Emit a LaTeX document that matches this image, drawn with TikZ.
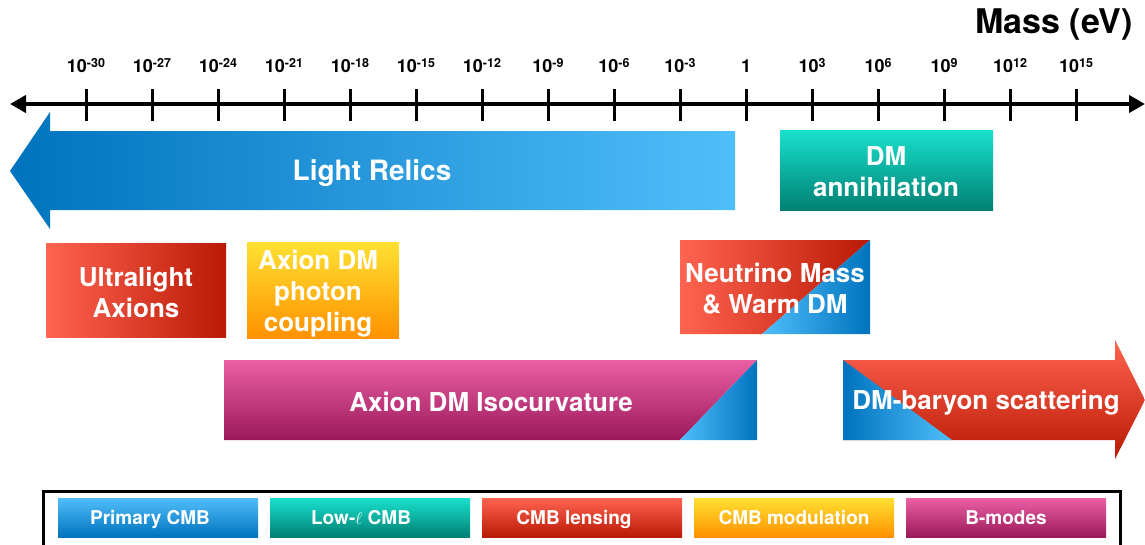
\documentclass[tikz,border=0pt]{standalone}
\usepackage{fontspec}
\setmainfont{TeX Gyre Heros}
\usetikzlibrary{arrows.meta}

\definecolor{bluelight}{RGB}{80,190,250}
\definecolor{bluedark}{RGB}{0,115,190}
\definecolor{teallight}{RGB}{25,225,205}
\definecolor{tealdark}{RGB}{0,128,115}
\definecolor{redlight}{RGB}{255,100,80}
\definecolor{reddark}{RGB}{185,25,5}
\definecolor{yellowlight}{RGB}{255,225,50}
\definecolor{orangedark}{RGB}{255,145,0}
\definecolor{pinklight}{RGB}{235,95,165}
\definecolor{magentadark}{RGB}{155,25,90}

\newcommand{\masslabel}[1]{{\fontsize{18}{18}\selectfont 10}\raisebox{4.8pt}{\fontsize{12.5}{12.5}\selectfont #1}}

\begin{document}
\begin{tikzpicture}[x=1pt,y=-1pt,
    boxtext/.style={text=white, font=\bfseries\fontsize{26}{31}\selectfont, align=center},
    legendbox/.style={minimum width=200pt, minimum height=39pt, inner sep=0pt,
      text height=13.5pt, text depth=0pt, text=white, font=\bfseries\fontsize{19}{19}\selectfont}]
    \useasboundingbox (0,0) rectangle (1145,544);

    % mass axis
    \coordinate (axisL) at (10,104);
    \coordinate (axisR) at (1145,104);
    \draw[line width=4pt, {Triangle[length=16pt,width=17pt]}-{Triangle[length=16pt,width=17pt]}] (axisL) -- (axisR);
    \foreach \e [count=\i from 0] in {-30,-27,-24,-21,-18,-15,-12,-9,-6,-3,0,3,6,9,12,15} {
        \draw[line width=3pt] (86+66*\i,89) -- (86+66*\i,121);
        \node[anchor=base, font=\bfseries] (m\i) at (86+66*\i,72)
            {\ifnum\e=0 {\fontsize{18}{18}\selectfont 1}\else\masslabel{\e}\fi};
    }
    \node[anchor=base, font=\bfseries\fontsize{34}{34}\selectfont] (masstitle) at (1054,33) {Mass (eV)};

    % light relics
    \shade[left color=bluedark, right color=bluelight] (10,171) -- (50,112) -- (50,131) -- (735,131)
        -- (735,210) -- (50,210) -- (50,229) -- cycle;
    \node[boxtext, font=\bfseries\fontsize{28}{31}\selectfont] (relics) at (372,173) {Light Relics};

    % DM annihilation
    \shade[top color=teallight, bottom color=tealdark] (780,130) rectangle (993,210);
    \node[boxtext] (annihilation) at (886,172) {DM\\annihilation};

    % ultralight axions
    \shade[left color=redlight, right color=reddark] (46,243) rectangle (226,337);
    \node[boxtext] (ultralight) at (136,292) {Ultralight\\Axions};

    % axion photon coupling
    \shade[top color=yellowlight, bottom color=orangedark] (247,242) rectangle (399,338);
    \node[boxtext] (coupling) at (318,294) {Axion DM\\photon\\coupling};

    % neutrino mass
    \shade[left color=redlight, right color=reddark] (680,240) -- (870,240) -- (762,334) -- (680,334) -- cycle;
    \shade[left color=bluelight, right color=bluedark] (870,240) -- (870,334) -- (762,334) -- cycle;
    \node[boxtext] (neutrino) at (775,289) {Neutrino Mass\\\& Warm DM};

    % isocurvature
    \shade[top color=pinklight, bottom color=magentadark] (224,360) -- (757,360) -- (680,440) -- (224,440) -- cycle;
    \shade[left color=bluelight, right color=bluedark] (757,360) -- (757,440) -- (680,440) -- cycle;
    \node[boxtext] (isocurvature) at (491,402) {Axion DM Isocurvature};

    % DM-baryon scattering
    \shade[top color=redlight, bottom color=reddark] (843,360) -- (1115,360) -- (1115,340) -- (1145,400)
        -- (1115,459) -- (1115,440) -- (843,440) -- cycle;
    \shade[left color=bluedark, right color=bluelight] (843,360) -- (952,440) -- (843,440) -- cycle;
    \node[boxtext] (scattering) at (986,403) {DM-baryon scattering};

    % legend
    \draw[line width=3pt] (43,491) rectangle (1120,560);
    \node[legendbox, top color=bluelight, bottom color=bluedark] (primary) at (158,517.5) {Primary CMB\hspace*{16pt}};
    \node[legendbox, top color=teallight, bottom color=tealdark] (lowell) at (370,517.5) {Low-\ensuremath{\ell} CMB\hspace*{18pt}};
    \node[legendbox, top color=redlight, bottom color=reddark] (lensing) at (582,517.5) {CMB lensing\hspace*{16pt}};
    \node[legendbox, top color=yellowlight, bottom color=orangedark] (modulation) at (794,517.5) {CMB modulation};
    \node[legendbox, top color=pinklight, bottom color=magentadark] (bmodes) at (1006,517.5) {B-modes};
\end{tikzpicture}
\end{document}
